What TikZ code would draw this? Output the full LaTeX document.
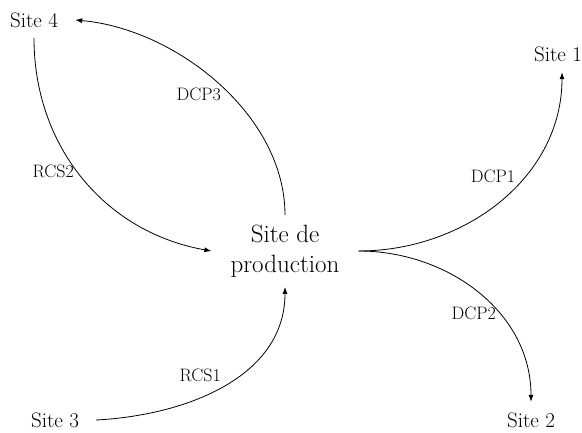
\documentclass[tikz,border=0pt]{standalone}
\usepackage{tikz}
\usetikzlibrary{arrows.meta,positioning}

\begin{document}
\begin{tikzpicture}[x=1pt,y=-1pt,>={Latex[length=7pt,width=5pt]},
  site/.style={inner xsep=17pt,inner ysep=10.5pt,font=\fontsize{21}{25}\selectfont},
  flow/.style={->,line width=0.8pt},
  lbl/.style={font=\fontsize{18}{22}\selectfont,inner sep=3pt}]
  \useasboundingbox (0,0) rectangle (582,432);
  \node[align=center,inner xsep=19pt,inner ysep=9.5pt,font=\fontsize{25}{30}\selectfont] (prod) at (285,251) {Site de\\production};
  \node[site] (s1) at (558,54) {Site 1};
  \node[site] (s2) at (531,420) {Site 2};
  \node[site] (s3) at (55,420) {Site 3};
  \node[site] (s4) at (34,20) {Site 4};
  \draw[flow] (prod.north) to[out=90,in=-5,looseness=0.9] node[lbl,left,pos=0.45,xshift=-5pt]{DCP3} (s4.east);
  \draw[flow] (s4.south) to[out=-90,in=170] node[lbl,left,pos=0.47]{RCS2} (prod.west);
  \draw[flow] (s3.east) to[out=3,in=-90] node[lbl,above left,pos=0.5]{RCS1} (prod.south);
  \draw[flow] (prod.east) to[out=0,in=-90] node[lbl,left,pos=0.62,xshift=-6pt]{DCP1} ([xshift=4pt]s1.south);
  \draw[flow] (prod.east) to[out=0,in=90] node[lbl,left,pos=0.62]{DCP2} (s2.north);
\end{tikzpicture}
\end{document}
